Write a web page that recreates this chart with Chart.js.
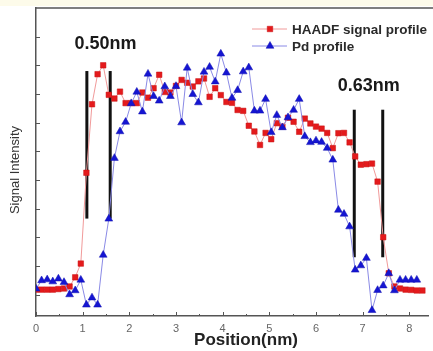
<!DOCTYPE html>
<html lang="en">
<head>
<meta charset="UTF-8">
<title>HAADF signal and Pd profile</title>
<script src="https://cdn.jsdelivr.net/npm/chart.js"></script>
<style>
  body { margin: 0; background: #fff; }
  canvas { display: block; }
</style>
</head>
<body>
<canvas id="profileChart" width="433" height="351"></canvas>
<script>
// sampling positions along the scan line (nm)
const positions = [0, 0.12, 0.24, 0.36, 0.48, 0.6, 0.72, 0.84, 0.96, 1.08,
  1.2, 1.32, 1.44, 1.56, 1.68, 1.8, 1.92, 2.04, 2.16, 2.28,
  2.4, 2.52, 2.64, 2.76, 2.88, 3.0, 3.12, 3.24, 3.36, 3.48,
  3.6, 3.72, 3.84, 3.96, 4.08, 4.2, 4.32, 4.44, 4.56, 4.68,
  4.8, 4.92, 5.04, 5.16, 5.28, 5.4, 5.52, 5.64, 5.76, 5.88,
  6.0, 6.12, 6.24, 6.36, 6.48, 6.6, 6.72, 6.84, 6.96, 7.08,
  7.2, 7.32, 7.44, 7.56, 7.68, 7.8, 7.92, 8.04, 8.16, 8.28];

// HAADF signal (arb. units)
const haadf = [1.17, 1.17, 1.17, 1.17, 1.19, 1.21, 1.28, 1.60, 2.08, 5.25,
  7.64, 8.69, 9.00, 7.97, 7.84, 8.08, 7.68, 7.68, 7.68, 8.05,
  7.87, 8.20, 8.67, 8.07, 8.05, 8.28, 8.49, 8.39, 8.26, 8.44,
  8.54, 7.90, 8.20, 7.96, 7.72, 7.69, 7.44, 7.41, 6.89, 6.69,
  6.22, 6.64, 6.42, 6.98, 6.86, 7.17, 7.03, 6.68, 7.14, 6.97,
  6.86, 6.79, 6.64, 6.11, 6.63, 6.64, 6.31, 5.82, 5.53, 5.55,
  5.57, 4.94, 3.00, 1.74, 1.28, 1.21, 1.17, 1.16, 1.14, 1.14];

// Pd profile (arb. units)
const pd = [1.20, 1.49, 1.52, 1.45, 1.55, 1.43, 1.00, 1.14, 1.51, 0.64,
  0.89, 0.64, 2.38, 3.64, 5.76, 6.69, 7.02, 7.67, 8.07, 7.38,
  8.70, 7.92, 7.76, 8.26, 7.92, 8.27, 7.00, 8.91, 7.99, 7.70,
  8.77, 8.94, 8.43, 9.40, 8.74, 7.86, 8.13, 8.78, 8.92, 7.41,
  7.41, 7.82, 6.66, 7.26, 6.83, 7.18, 7.44, 7.82, 6.52, 6.31,
  6.37, 6.32, 6.11, 5.70, 3.95, 3.81, 3.37, 1.86, 2.01, 2.27,
  0.45, 1.15, 1.31, 1.74, 1.14, 1.51, 1.51, 1.51, 1.51];

const seriesNames = ['HAADF signal profile', 'Pd profile'];
const xTicks = [0, 1, 2, 3, 4, 5, 6, 7, 8];
const yTicks = [1, 2, 3, 4, 5, 6, 7, 8, 9, 10];

// interface width markers
const edgeX = [1.09, 1.59, 6.82, 7.43];
const edgeTop = [8.8, 8.8, 7.45, 7.45];
const edgeBottom = [3.65, 3.65, 2.3, 2.3];
const widthLabels = ['0.50nm', '0.63nm'];

const FONT = '"Liberation Sans", Arial, sans-serif';
Chart.defaults.font.family = FONT;

const RED = '#e41a1c';
const BLUE = '#1515d2';

const edgeSets = edgeX.map((x, i) => ({
  data: [{ x: x, y: edgeBottom[i] }, { x: x, y: edgeTop[i] }],
  borderColor: '#111',
  borderWidth: 3,
  pointRadius: 0,
  order: 3
}));

// axis frame, inner ticks, titles, labels and legend
const decorations = {
  id: 'decorations',
  beforeDraw(chart) {
    const ctx = chart.ctx;
    ctx.save();
    ctx.fillStyle = '#fff';
    ctx.fillRect(0, 0, chart.width, chart.height);
    ctx.fillStyle = '#fdfbea';
    ctx.fillRect(0, 0, chart.width, 6);
    ctx.restore();
  },
  afterDraw(chart) {
    const { ctx, chartArea: a, scales: { x, y } } = chart;
    ctx.save();
    ctx.strokeStyle = '#555';
    ctx.lineWidth = 1.5;
    ctx.beginPath();
    ctx.moveTo(a.left, a.top);
    ctx.lineTo(chart.width, a.top);
    ctx.stroke();

    ctx.lineWidth = 1;
    ctx.beginPath();
    yTicks.forEach(v => {
      const py = Math.round(y.getPixelForValue(v)) + 0.5;
      ctx.moveTo(a.left, py);
      ctx.lineTo(a.left + 4, py);
    });
    xTicks.forEach(v => {
      const px = Math.round(x.getPixelForValue(v)) + 0.5;
      ctx.moveTo(px, a.bottom);
      ctx.lineTo(px, a.bottom - 4);
      const mx = Math.round(x.getPixelForValue(v + 0.5)) + 0.5;
      if (mx < a.right) {
        ctx.moveTo(mx, a.bottom);
        ctx.lineTo(mx, a.bottom - 2);
      }
    });
    ctx.stroke();

    // axis titles
    ctx.fillStyle = '#222';
    ctx.textAlign = 'center';
    ctx.textBaseline = 'middle';
    ctx.font = 'bold 17px ' + FONT;
    ctx.fillText('Position(nm)', x.getPixelForValue(4.5), 340);
    ctx.save();
    ctx.translate(15, 170);
    ctx.rotate(-Math.PI / 2);
    ctx.font = '13px ' + FONT;
    ctx.fillStyle = '#333';
    ctx.fillText('Signal Intensity', 0, 0);
    ctx.restore();

    // width labels
    const labelAt = [[1.49, 9.75], [7.13, 8.28]];
    ctx.font = 'bold 18px ' + FONT;
    ctx.fillStyle = '#1a1a1a';
    widthLabels.forEach((t, i) => {
      ctx.fillText(t, x.getPixelForValue(labelAt[i][0]), y.getPixelForValue(labelAt[i][1]));
    });

    // legend: line + marker + name
    ctx.textAlign = 'left';
    ctx.font = 'bold 13.5px ' + FONT;
    const rows = [29, 46];
    [chart.data.datasets[1], chart.data.datasets[0]].forEach((ds, i) => {
      const ly = rows[i];
      ctx.strokeStyle = ds.borderColor;
      ctx.lineWidth = 1;
      ctx.beginPath();
      ctx.moveTo(252, ly);
      ctx.lineTo(287, ly);
      ctx.stroke();
      ctx.fillStyle = ds.pointBackgroundColor;
      ctx.strokeStyle = ds.pointBorderColor;
      ctx.lineWidth = 0.5;
      Chart.helpers.drawPoint(ctx, {
        pointStyle: ds.pointStyle, radius: ds.pointRadius, borderWidth: 0.5
      }, 270, ly);
      ctx.fillStyle = '#2a2a2a';
      ctx.fillText(seriesNames[i], 292, ly + 1);
    });
    ctx.restore();
  }
};

new Chart(document.getElementById('profileChart'), {
  type: 'line',
  data: {
    datasets: [
      {
        label: seriesNames[1],
        data: pd.map((v, i) => ({ x: positions[i], y: v })),
        borderColor: '#8a8ae6',
        borderWidth: 1,
        pointStyle: 'triangle',
        pointRadius: 4.5,
        pointBackgroundColor: BLUE,
        pointBorderColor: '#1010b0',
        pointBorderWidth: 0.5,
        order: 1
      },
      {
        label: seriesNames[0],
        data: haadf.map((v, i) => ({ x: positions[i], y: v })),
        borderColor: '#f19a9a',
        borderWidth: 1,
        pointStyle: 'rect',
        pointRadius: 3.9,
        pointBackgroundColor: RED,
        pointBorderColor: '#c81010',
        pointBorderWidth: 0.5,
        order: 2
      },
      ...edgeSets
    ]
  },
  options: {
    responsive: false,
    animation: false,
    events: [],
    layout: { padding: { top: 8, right: 0, left: 0, bottom: 0 } },
    plugins: { legend: { display: false }, tooltip: { enabled: false } },
    scales: {
      x: {
        type: 'linear',
        min: 0,
        max: 8.4,
        afterBuildTicks: s => { s.ticks = xTicks.map(v => ({ value: v })); },
        afterFit: s => { s.height = 35; },
        grid: { display: false, drawTicks: false },
        border: { color: '#555', width: 1.5 },
        ticks: { padding: 6, color: '#666', font: { size: 11 }, maxRotation: 0, autoSkip: false }
      },
      y: {
        type: 'linear',
        min: 0.25,
        max: 11,
        afterFit: s => { s.width = 36; },
        grid: { display: false, drawTicks: false },
        border: { color: '#555', width: 1.5 },
        ticks: { display: false }
      }
    }
  },
  plugins: [decorations]
});
</script>
</body>
</html>
